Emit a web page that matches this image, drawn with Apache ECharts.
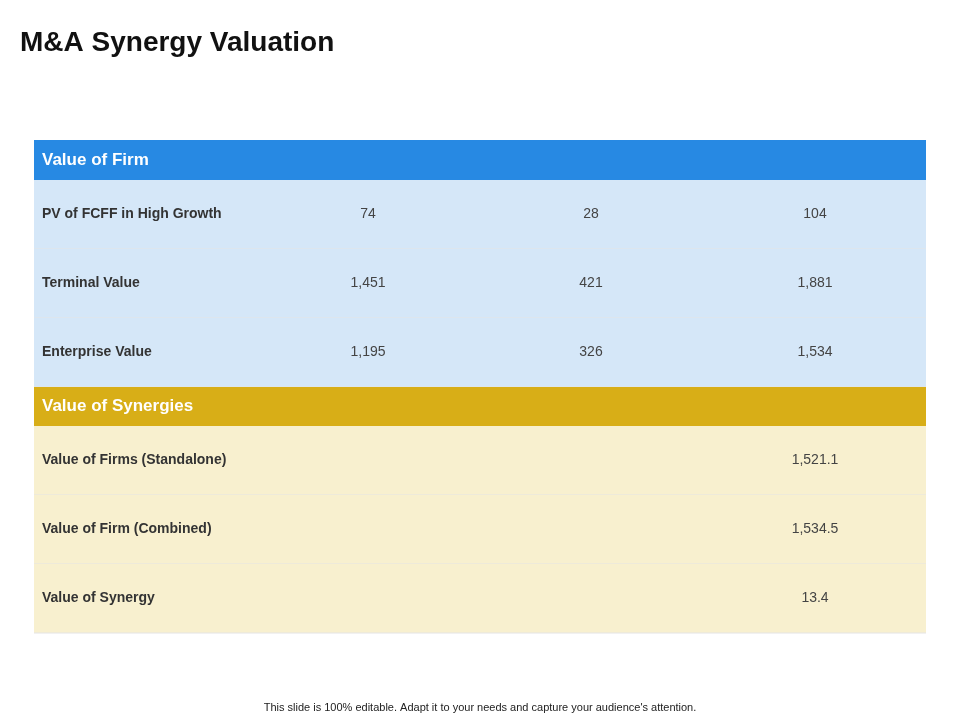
<!DOCTYPE html>
<html><head><meta charset="utf-8">
<script src="https://cdn.jsdelivr.net/npm/echarts@6/dist/echarts.min.js"></script>
<style>html,body{margin:0;padding:0;background:#fff}#c{width:960px;height:720px}</style>
</head><body><div id="c"></div>
<script>
const title = "M&A Synergy Valuation";
const footer = "This slide is 100% editable. Adapt it to your needs and capture your audience's attention.";
const section1 = "Value of Firm";
const firmRows = ["PV of FCFF in High Growth", "Terminal Value", "Enterprise Value"];
const firmCol1 = ["74", "1,451", "1,195"];
const firmCol2 = ["28", "421", "326"];
const firmCol3 = ["104", "1,881", "1,534"];
const section2 = "Value of Synergies";
const synRows = ["Value of Firms (Standalone)", "Value of Firm (Combined)", "Value of Synergy"];
const synCol3 = ["1,521.1", "1,534.5", "13.4"];

const L = 34, R = 926, colX = [368, 591, 815];
const g = [];
function header(y, h, text, color) {
  g.push({type:'rect', shape:{x:L,y:y,width:R-L,height:h}, style:{fill:color}});
  g.push({type:'text', x:42, y:y+h/2, style:{text:text, fill:'#fff', font:'bold 17px "Liberation Sans", Arial', textVerticalAlign:'middle'}});
}
function row(y, h, label, vals, fill) {
  g.push({type:'rect', shape:{x:L,y:y,width:R-L,height:h}, style:{fill:fill}});
  g.push({type:'line', shape:{x1:L,y1:y+h,x2:R,y2:y+h}, style:{stroke:'#e4e4e4', lineWidth:1}});
  g.push({type:'text', x:42, y:y+h/2, style:{text:label, fill:'#333', font:'bold 14px "Liberation Sans", Arial', textVerticalAlign:'middle'}});
  vals.forEach((v,i)=>{ if(v) g.push({type:'text', x:colX[i], y:y+h/2, style:{text:v, fill:'#444', font:'14px "Liberation Sans", Arial', textAlign:'center', textVerticalAlign:'middle'}}); });
}
g.push({type:'text', x:20, y:43, style:{text:title, fill:'#111', font:'bold 28px "Liberation Sans", Arial', textVerticalAlign:'middle'}});
header(140, 40, section1, '#2789E3');
firmRows.forEach((r,i)=>row(180+i*69, 69, r, [firmCol1[i], firmCol2[i], firmCol3[i]], '#D5E7F8'));
header(387, 39, section2, '#D8AE17');
synRows.forEach((r,i)=>row(426+i*69, 69, r, ['', '', synCol3[i]], '#F8F0CF'));
g.push({type:'text', x:480, y:708, style:{text:footer, fill:'#222', font:'11px "Liberation Sans", Arial', textAlign:'center', textVerticalAlign:'middle'}});

const chart = echarts.init(document.getElementById('c'));
chart.setOption({animation:false, graphic:g});
</script></body></html>
